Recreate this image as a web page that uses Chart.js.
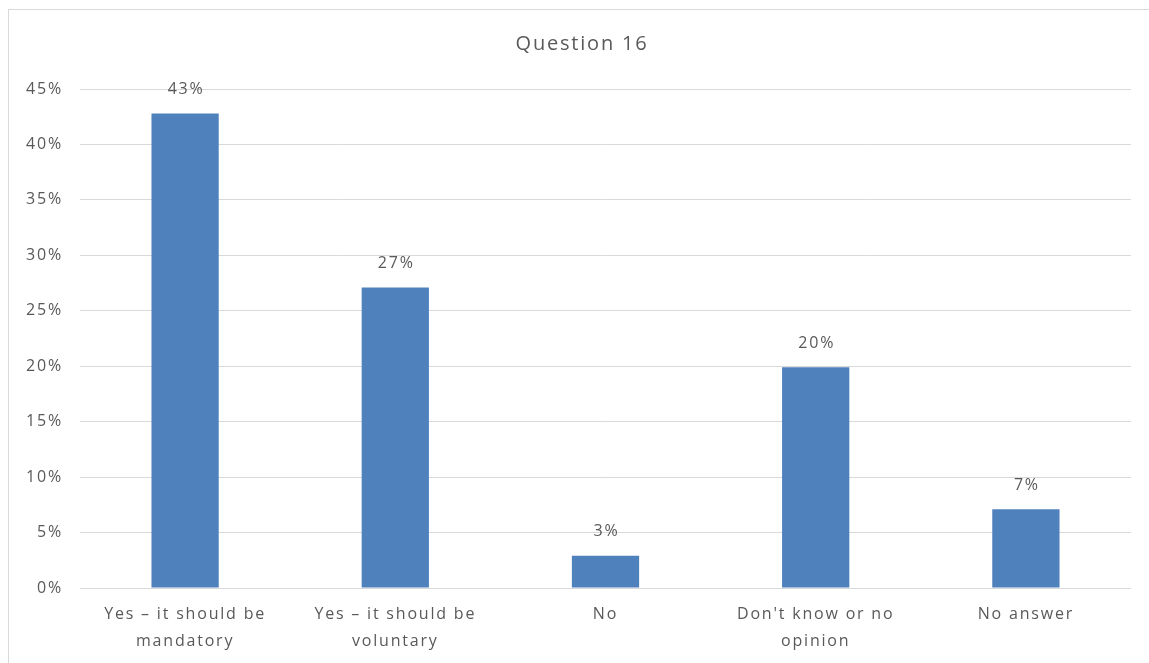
<!DOCTYPE html>
<html>
<head>
<meta charset="utf-8">
<script src="https://cdn.jsdelivr.net/npm/chart.js@4/dist/chart.umd.min.js"></script>
<style>
  html, body { margin: 0; padding: 0; background: #fff; }
  #wrap { position: relative; width: 1149px; height: 663px; overflow: hidden; }
  #frame { position: absolute; left: 8px; top: 9px; width: 1160px; height: 680px; border: 1px solid #d9d9d9; box-sizing: border-box; }
  canvas { position: absolute; left: 0; top: 0; }
</style>
</head>
<body>
<div id="wrap">
  <div id="frame"></div>
  <canvas id="chart" width="1149" height="663"></canvas>
</div>
<script>
// --- dados ---
const TITLE = "Question 16";
const categories = [
  ["Yes \u2013 it should be", "mandatory"],
  ["Yes \u2013 it should be", "voluntary"],
  "No",
  ["Don't know or no", "opinion"],
  "No answer"
];
const values = [42.8, 27.1, 2.9, 19.9, 7.1];
const valueLabels = ["43%", "27%", "3%", "20%", "7%"];
const yMax = 45;
const yStep = 5;

const TEXT = "#595959";
const FONT = "'Open Sans', 'Liberation Sans', sans-serif";
const SPACING = "1.8px";

// espaçamento das letras (estilo Excel)
const spacingPlugin = {
  id: "spacingPlugin",
  beforeUpdate(chart) { chart.ctx.letterSpacing = SPACING; },
  beforeDraw(chart) { chart.ctx.letterSpacing = SPACING; }
};

// rótulos em cima das barras + título
const labelsPlugin = {
  id: "labelsPlugin",
  afterDatasetsDraw(chart) {
    const ctx = chart.ctx;
    const meta = chart.getDatasetMeta(0);
    ctx.save();
    ctx.letterSpacing = SPACING;
    ctx.fillStyle = TEXT;
    ctx.font = "16px " + FONT;
    ctx.textAlign = "center";
    ctx.textBaseline = "middle";
    meta.data.forEach((bar, i) => {
      ctx.fillText(valueLabels[i], bar.x + 1, bar.y - 24);
    });
    ctx.font = "20px " + FONT;
    ctx.fillText(TITLE, 582, 44);
    ctx.restore();
  }
};

new Chart(document.getElementById("chart"), {
  type: "bar",
  data: {
    labels: categories,
    datasets: [{
      data: values,
      backgroundColor: "#4F81BD",
      categoryPercentage: 1,
      barPercentage: 0.32
    }]
  },
  options: {
    responsive: false,
    animation: false,
    layout: { padding: { top: 89, right: 18, left: 0, bottom: 0 } },
    plugins: {
      legend: { display: false },
      tooltip: { enabled: false }
    },
    scales: {
      x: {
        grid: { display: false, drawTicks: false },
        border: { display: false },
        ticks: {
          color: TEXT,
          font: { family: FONT, size: 16, lineHeight: 1.7 },
          padding: 13,
          maxRotation: 0,
          autoSkip: false
        },
        afterFit(scale) { scale.height = 75; }
      },
      y: {
        min: 0,
        max: yMax,
        grid: { color: "#d9d9d9", drawTicks: false },
        border: { display: false },
        ticks: {
          stepSize: yStep,
          color: TEXT,
          font: { family: FONT, size: 16 },
          padding: 17,
          callback: v => v + "%"
        },
        afterFit(scale) { scale.width = 80; }
      }
    }
  },
  plugins: [spacingPlugin, labelsPlugin]
});
</script>
</body>
</html>
